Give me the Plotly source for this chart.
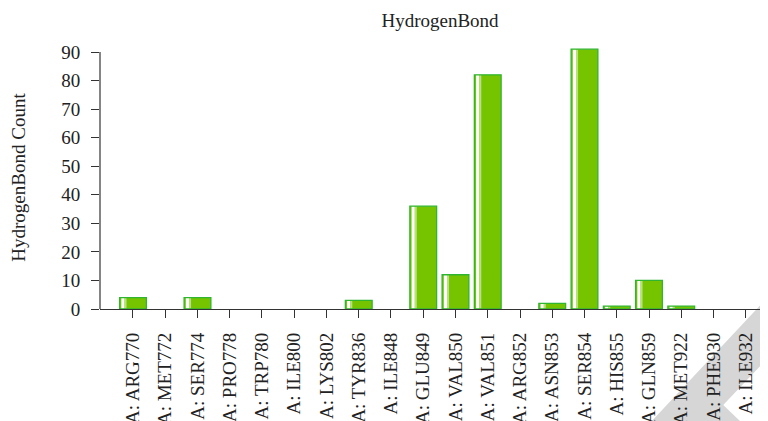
import plotly.graph_objects as go

# Residues along the x axis and their hydrogen bond counts
residues = [
    "A: ARG770", "A: MET772", "A: SER774", "A: PRO778", "A: TRP780",
    "A: ILE800", "A: LYS802", "A: TYR836", "A: ILE848", "A: GLU849",
    "A: VAL850", "A: VAL851", "A: ARG852", "A: ASN853", "A: SER854",
    "A: HIS855", "A: GLN859", "A: MET922", "A: PHE930", "A: ILE932",
]
counts = [4, 0, 4, 0, 0, 0, 0, 3, 0, 36, 12, 82, 0, 2, 91, 1, 10, 1, 0, 0]
y_ticks = [0, 10, 20, 30, 40, 50, 60, 70, 80, 90]

FONT = "Liberation Serif"
BAR_W = 0.83
GREEN = "#76c400"
EDGE = "#2fb52f"

# zero counts get no bar at all (no outline sitting on the axis)
shown = [c if c else None for c in counts]

fig = go.Figure()

# bar body
fig.add_trace(go.Bar(x=residues, y=shown, width=BAR_W, offset=-BAR_W / 2,
                     marker=dict(color=GREEN, line=dict(width=0)), hoverinfo="skip"))
# glossy highlight strips on the left side of each bar
fig.add_trace(go.Bar(x=residues, y=shown, width=0.10, offset=-BAR_W / 2 + 0.053,
                     marker=dict(color="#ffffff", line=dict(width=0)), hoverinfo="skip"))
fig.add_trace(go.Bar(x=residues, y=shown, width=0.062, offset=-BAR_W / 2 + 0.153,
                     marker=dict(color="#b8e27c", line=dict(width=0)), hoverinfo="skip"))
# outline on top
fig.add_trace(go.Bar(x=residues, y=shown, width=BAR_W, offset=-BAR_W / 2,
                     marker=dict(color="rgba(0,0,0,0)", line=dict(width=1.3, color=EDGE)),
                     hoverinfo="skip"))

# y axis line only up to 90
fig.add_shape(type="line", xref="paper", yref="y", x0=0, x1=0, y0=0, y1=90,
              line=dict(color="#333333", width=1.2))

# faint watermark chevron in the lower right corner
fig.add_shape(type="path", xref="paper", yref="paper", layer="below",
              path="M 0.826 -0.426 L 1.0 0.046 L 1.0 -0.186 L 0.933 -0.365 L 0.958 -0.426 Z",
              fillcolor="#d6d6d6", line=dict(width=0))

# the page body adds an 8px offset, margins account for it
fig.update_layout(
    width=768,
    height=421,
    barmode="overlay",
    showlegend=False,
    plot_bgcolor="white",
    paper_bgcolor="white",
    margin=dict(l=92, r=8, t=38, b=120, autoexpand=False),
    font=dict(family=FONT, size=19, color="#222222"),
    title=dict(text="HydrogenBond", xref="paper", x=0.509, xanchor="center",
               y=0.971, yanchor="middle",
               font=dict(family=FONT, size=19, color="#222222")),
    xaxis=dict(
        range=[-1.023, 19.69],
        automargin=False,
        showline=True, linecolor="#333333", linewidth=1.2,
        ticks="outside", ticklen=8, tickcolor="#333333",
        tickangle=-90, ticklabelstandoff=7,
        showgrid=False, zeroline=False,
        tickfont=dict(family=FONT, size=19, color="#222222"),
    ),
    yaxis=dict(
        range=[0, 92.1],
        automargin=False,
        tickvals=y_ticks,
        showline=False,
        ticks="outside", ticklen=8, tickcolor="#333333",
        ticklabelstandoff=7,
        showgrid=False, zeroline=False,
        title=dict(text="HydrogenBond Count", standoff=30,
                   font=dict(family=FONT, size=19, color="#222222")),
        tickfont=dict(family=FONT, size=19, color="#222222"),
    ),
)

fig.write_html("out.html")
